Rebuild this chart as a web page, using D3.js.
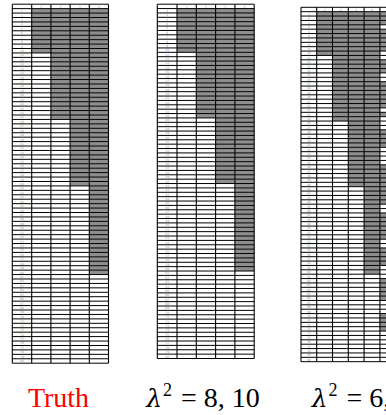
<!DOCTYPE html>
<html>
<head>
<meta charset="utf-8">
<script src="https://cdn.jsdelivr.net/npm/d3@7/dist/d3.min.js"></script>
<style>
html,body{margin:0;padding:0;background:#fff;}
svg{display:block;}
</style>
</head>
<body>
<svg id="chart" width="386" height="415"></svg>
<script>
// ---- data ----
const nRows = 80;
const columnsTruth = [1, 2, 3, 4];
const columnsLam810 = [1, 2, 3, 4];
const columnsLam6 = [1, 2, 3, 4, 5, 6];
// number of leading selected (gray) rows in each column
const truthCounts = [10, 25, 40, 60];
const lam810Counts = [10, 25, 40, 60];
const lam6Counts = [10, 25, 40, 60];
// panel 3, column 5: rows selected (estimated, partly cut off)
const lam6Col5Rows = [1,2,3,5,6,7,8,9,12,13,14,17,18,19,20,21,22,24,28,29,30,31,36,37,38,39,40,41,42,43,44,47,48,49,50,51,52,55,56,57,58,62,63,64,65,66,70,71,72,73];
const lam6Col6Rows = [];
const panelLabels = ["Truth", "λ2 = 8, 10", "λ2 = 6, 8"];

// ---- layout ----
const svg = d3.select("#chart");
const panels = [
  {cols: columnsTruth, sel: columnsTruth.map((c,i)=>d3.range(1, truthCounts[i]+1)),
   x0: 12.3, labelW: 19.4, colW: 19.2, top: 4.2, bottom: 363.2},
  {cols: columnsLam810, sel: columnsLam810.map((c,i)=>d3.range(1, lam810Counts[i]+1)),
   x0: 157.3, labelW: 19.7, colW: 19.3, top: 4.2, bottom: 358.5},
  {cols: columnsLam6, sel: columnsLam6.map((c,i)=> i < 4 ? d3.range(1, lam6Counts[i]+1) : (i===4 ? lam6Col5Rows : lam6Col6Rows)),
   x0: 301, labelW: 15.7, colW: 15.8, top: 7.3, bottom: 361.7}
];

panels.forEach((p, pi) => {
  const g = svg.append("g");
  const y = d3.scaleBand().domain(d3.range(0, nRows + 1)).range([p.top, p.bottom]).paddingInner(0).paddingOuter(0);
  const x = d3.scaleBand().domain(p.cols).range([p.x0 + p.labelW, p.x0 + p.labelW + p.colW * p.cols.length]);
  const right = p.x0 + p.labelW + p.colW * p.cols.length;

  // gray cells
  p.cols.forEach((c, ci) => {
    g.selectAll(null).data(p.sel[ci]).enter().append("rect")
      .attr("x", x(c)).attr("width", x.bandwidth())
      .attr("y", r => y(r)).attr("height", y.bandwidth())
      .attr("fill", "#8e8e8e");
  });

  // row labels
  g.selectAll(null).data(d3.range(1, nRows + 1)).enter().append("text")
    .attr("x", p.x0 + p.labelW / 2).attr("y", r => y(r) + y.bandwidth() * 0.78)
    .attr("text-anchor", "middle").attr("font-size", 3).attr("fill", "#999")
    .attr("font-family", "DejaVu Sans").text(r => r);
  // header labels
  g.selectAll(null).data(p.cols).enter().append("text")
    .attr("x", c => x(c) + x.bandwidth() / 2).attr("y", y(0) + y.bandwidth() * 0.78)
    .attr("text-anchor", "middle").attr("font-size", 3).attr("fill", "#999")
    .attr("font-family", "DejaVu Sans").text(c => c);

  // horizontal lines
  g.selectAll(null).data(d3.range(0, nRows + 2)).enter().append("line")
    .attr("x1", p.x0).attr("x2", right)
    .attr("y1", r => r <= nRows ? y(r) : p.bottom).attr("y2", r => r <= nRows ? y(r) : p.bottom)
    .attr("stroke", "#000").attr("stroke-width", 1);
  // vertical lines
  const vx = [p.x0, p.x0 + p.labelW].concat(p.cols.map(c => x(c) + x.bandwidth()));
  g.selectAll(null).data(vx).enter().append("line")
    .attr("x1", d => d).attr("x2", d => d).attr("y1", p.top).attr("y2", p.bottom)
    .attr("stroke", "#000").attr("stroke-width", 1.1);
});

// ---- labels ----
const serif = "Liberation Serif, DejaVu Serif, serif";
const lab = svg.append("g").attr("font-family", serif).attr("font-size", 28);
lab.append("text").attr("x", 58.5).attr("y", 407).attr("text-anchor", "middle").attr("fill", "#ff0000").text(panelLabels[0]);

function lambdaLabel(str, xPos, anchor) {
  const parts = str.split(" = ");
  const t = lab.append("text").attr("x", xPos).attr("y", 407).attr("text-anchor", anchor).attr("fill", "#000");
  t.append("tspan").attr("font-family", "DejaVu Serif").attr("font-style", "italic").attr("font-size", 25).text(parts[0][0]);
  t.append("tspan").attr("font-family", serif).attr("font-size", 18).attr("dy", -11).attr("dx", 1).text(parts[0].slice(1));
  t.append("tspan").attr("font-family", serif).attr("dy", 11).attr("dx", 2).text(" = " + parts[1]);
}
lambdaLabel(panelLabels[1], 203, "middle");
lambdaLabel(panelLabels[2], 311.7, "start");
</script>
</body>
</html>
